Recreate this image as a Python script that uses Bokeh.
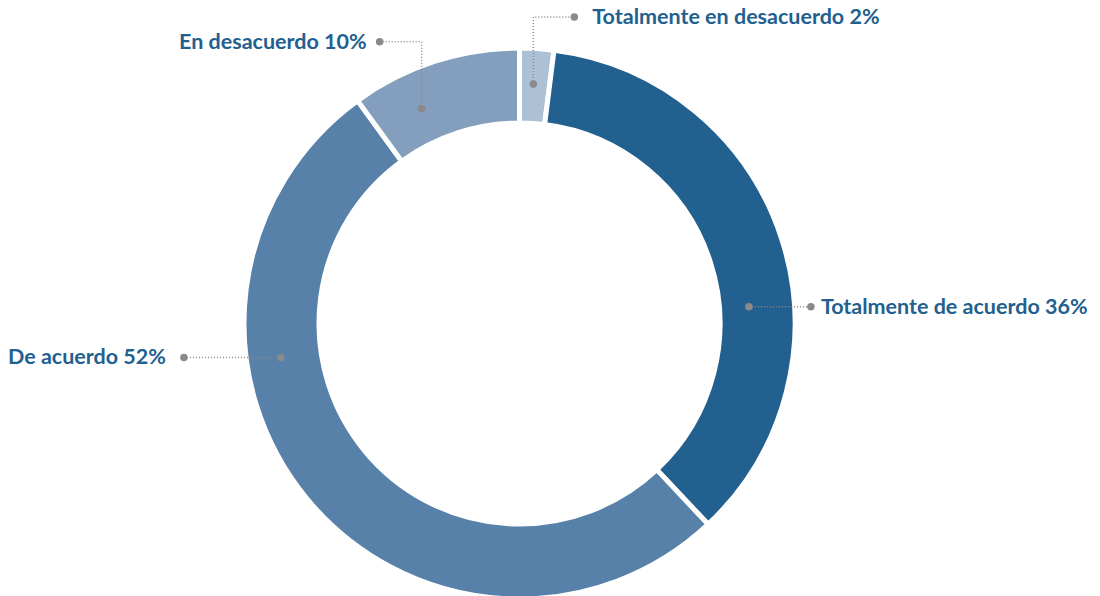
import math
from bokeh.plotting import figure
from bokeh.models import Range1d, ColumnDataSource
from bokeh.core.properties import value
from bokeh.embed import file_html
from bokeh.resources import INLINE

# ---- data ----
categories = ["Totalmente en desacuerdo", "Totalmente de acuerdo", "De acuerdo", "En desacuerdo"]
percents = [2, 36, 52, 10]
colors = ["#adc1d6", "#22608f", "#5781a9", "#839fbd"]

# ---- layout ----
CX, CY = 519, -323
R_OUT, R_IN = 275.5, 200.5
# anchor polar position (deg clockwise from 12 o'clock, radius) for each label's leader
label_angle = [3.3, 85.8, 261.9, 335.5]
label_radius = [240, 230, 241, 236]
# leader routing
leader_rise = [67, 0, 0, 67]
leader_dir = [1, 1, -1, -1]
leader_len = [41, 62, 97, 42]
text_gap = [18, 10, 18, 13]

W, H = 1100, 596
p = figure(width=W, height=H, output_backend="svg", toolbar_location=None,
           x_range=Range1d(0, W), y_range=Range1d(-H, 0),
           min_border=0, outline_line_color=None)
p.axis.visible = False
p.grid.visible = False
p.background_fill_color = "white"
p.border_fill_color = "white"

total = sum(percents)
starts, ends = [], []
acc = 0.0
for v in percents:
    a0 = acc / total * 360.0
    acc += v
    a1 = acc / total * 360.0
    starts.append(math.radians(90 - a0))
    ends.append(math.radians(90 - a1))

src = ColumnDataSource(dict(start=starts, end=ends, color=colors))
p.annular_wedge(x=CX, y=CY, inner_radius=R_IN, outer_radius=R_OUT,
                start_angle="start", end_angle="end", direction="clock",
                fill_color="color", line_color="white", line_width=5, source=src)

lead_color = "#8a8a8a"
text_color = "#22608f"
for i, cat in enumerate(categories):
    th = math.radians(label_angle[i])
    ax = CX + label_radius[i] * math.sin(th)
    ay = CY + label_radius[i] * math.cos(th)
    ey = ay + leader_rise[i]
    ex = ax + leader_dir[i] * leader_len[i]
    p.line([ax, ax, ex], [ay, ey, ey], line_color=lead_color, line_width=1.5, line_dash="1 2")
    p.scatter([ax, ex], [ay, ey], size=7.5, fill_color=lead_color, line_color=None)
    label = f"{cat} {percents[i]}%"
    tx = ex + leader_dir[i] * text_gap[i]
    p.text(x=[tx], y=[ey + 1], text=[label], text_font=value("Lato"), text_font_style="bold",
           text_font_size="21.5px", text_color=text_color, text_baseline="middle",
           text_align="left" if leader_dir[i] > 0 else "right")

open("out.html", "w").write(file_html(p, INLINE))
